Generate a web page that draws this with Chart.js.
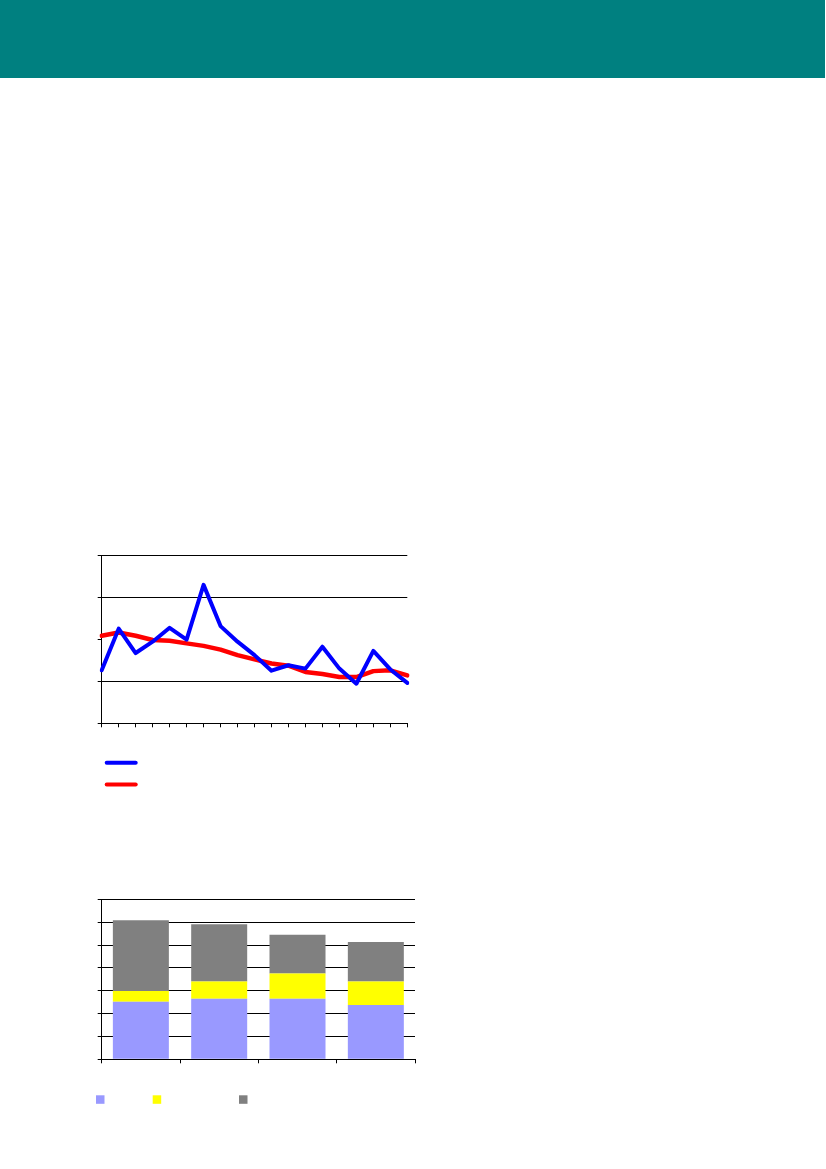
<!DOCTYPE html>
<html>
<head>
<meta charset="utf-8">
<script src="https://cdn.jsdelivr.net/npm/chart.js@4.4.1/dist/chart.umd.min.js"></script>
<style>
  html, body { margin: 0; padding: 0; background: #ffffff; }
  body { width: 826px; height: 1169px; position: relative; overflow: hidden; font-family: "Liberation Sans", Arial, sans-serif; }
  #band { position: absolute; left: 0; top: 0; width: 825px; height: 78px; background: #008080; }
  #wrap1 { position: absolute; left: 90px; top: 545px; width: 330px; height: 260px; }
  #wrap2 { position: absolute; left: 90px; top: 889px; width: 340px; height: 230px; }
</style>
</head>
<body>
<div id="band"></div>
<div id="wrap1"><canvas id="lineChart" width="330" height="260"></canvas></div>
<div id="wrap2"><canvas id="barChart" width="340" height="230"></canvas></div>
<script>
// ---- Line chart data ----
const lineCategories = ['1','2','3','4','5','6','7','8','9','10','11','12','13','14','15','16','17','18','19'];
const blueSeries = [12.6, 22.5, 16.7, 19.4, 22.7, 19.9, 32.9, 23.1, 19.4, 16.2, 12.5, 13.8, 13.0, 18.2, 13.0, 9.4, 17.2, 12.8, 9.6];
const redSeries  = [20.8, 21.6, 20.8, 19.8, 19.6, 19.0, 18.4, 17.5, 16.2, 15.2, 14.2, 13.7, 12.2, 11.7, 11.0, 11.0, 12.4, 12.6, 11.4];
const lineYTicks = [0, 10, 20, 30, 40];

// ---- Stacked bar chart data ----
const barCategories = ['A', 'B', 'C', 'D'];
const barBlue   = [25.2, 26.5, 26.5, 23.8];
const barYellow = [4.7, 7.5, 11.0, 10.2];
const barGray   = [30.9, 25.1, 17.0, 17.3];
const barYTicks = [0, 10, 20, 30, 40, 50, 60, 70];

Chart.defaults.font.family = '"Liberation Sans", Arial, sans-serif';
Chart.defaults.animation = false;

// Legend drawn in a stacked (vertical) arrangement using line swatches
const lineLegendPlugin = {
  id: 'lineLegend',
  afterDraw(chart) {
    const ctx = chart.ctx;
    const a = chart.chartArea;
    chart.data.datasets.forEach((ds, i) => {
      const y = a.bottom + 39.5 + i * 21.6;
      ctx.save();
      ctx.strokeStyle = ds.borderColor;
      ctx.lineWidth = 4;
      ctx.lineCap = 'round';
      ctx.beginPath();
      ctx.moveTo(a.left + 5, y);
      ctx.lineTo(a.left + 34, y);
      ctx.stroke();
      ctx.restore();
    });
  }
};

const barLegendPlugin = {
  id: 'barLegend',
  afterDraw(chart) {
    const ctx = chart.ctx;
    const a = chart.chartArea;
    const offsets = [-5.7, 51, 137.3];
    chart.data.datasets.forEach((ds, i) => {
      ctx.save();
      ctx.fillStyle = ds.backgroundColor;
      ctx.fillRect(a.left + offsets[i], a.bottom + 36, 8.5, 8.5);
      ctx.restore();
    });
  }
};

new Chart(document.getElementById('lineChart'), {
  type: 'line',
  data: {
    labels: lineCategories,
    datasets: [
      { data: blueSeries, borderColor: '#0000FF', backgroundColor: '#0000FF', borderWidth: 4, pointRadius: 0, tension: 0, borderJoinStyle: 'round', borderCapStyle: 'round' },
      { data: redSeries, borderColor: '#FF0000', backgroundColor: '#FF0000', borderWidth: 4.5, pointRadius: 0, tension: 0, borderJoinStyle: 'round', borderCapStyle: 'round' }
    ]
  },
  options: {
    responsive: false,
    maintainAspectRatio: false,
    layout: { padding: { left: 7.7, top: 10, right: 12.7, bottom: 77.7 } },
    plugins: { legend: { display: false }, tooltip: { enabled: false } },
    scales: {
      x: {
        offset: false,
        grid: { display: true, drawOnChartArea: false, drawTicks: true, tickLength: 4, color: '#000000', tickColor: '#000000', offset: false },
        border: { display: true, color: '#000000', width: 1 },
        ticks: { display: false }
      },
      y: {
        min: lineYTicks[0], max: lineYTicks[lineYTicks.length - 1],
        afterBuildTicks: (scale) => { scale.ticks = lineYTicks.map(v => ({ value: v })); },
        grid: {
          drawTicks: true, tickLength: 4,
          color: (c) => (c.tick && c.tick.value === 20) ? 'rgba(0,0,0,0)' : '#000000',
          tickColor: '#000000', lineWidth: 1
        },
        border: { display: true, color: '#000000', width: 1 },
        ticks: { display: false }
      }
    }
  },
  plugins: [lineLegendPlugin]
});

new Chart(document.getElementById('barChart'), {
  type: 'bar',
  data: {
    labels: barCategories,
    datasets: [
      { data: barBlue, backgroundColor: '#9999FF', borderWidth: 0 },
      { data: barYellow, backgroundColor: '#FFFF00', borderWidth: 0 },
      { data: barGray, backgroundColor: '#808080', borderWidth: 0 }
    ]
  },
  options: {
    responsive: false,
    maintainAspectRatio: false,
    layout: { padding: { left: 7.7, top: 10.3, right: 15, bottom: 55.7 } },
    plugins: { legend: { display: false }, tooltip: { enabled: false } },
    datasets: { bar: { categoryPercentage: 1.0, barPercentage: 0.715 } },
    scales: {
      x: {
        stacked: true,
        grid: { display: true, drawOnChartArea: false, drawTicks: true, tickLength: 4, color: '#000000', tickColor: '#000000', offset: true },
        border: { display: true, color: '#000000', width: 1 },
        ticks: { display: false }
      },
      y: {
        stacked: true,
        min: barYTicks[0], max: barYTicks[barYTicks.length - 1],
        afterBuildTicks: (scale) => { scale.ticks = barYTicks.map(v => ({ value: v })); },
        grid: { drawTicks: true, tickLength: 4, color: '#000000', tickColor: '#000000', lineWidth: 1 },
        border: { display: true, color: '#000000', width: 1 },
        ticks: { display: false }
      }
    }
  },
  plugins: [barLegendPlugin]
});
</script>
</body>
</html>
